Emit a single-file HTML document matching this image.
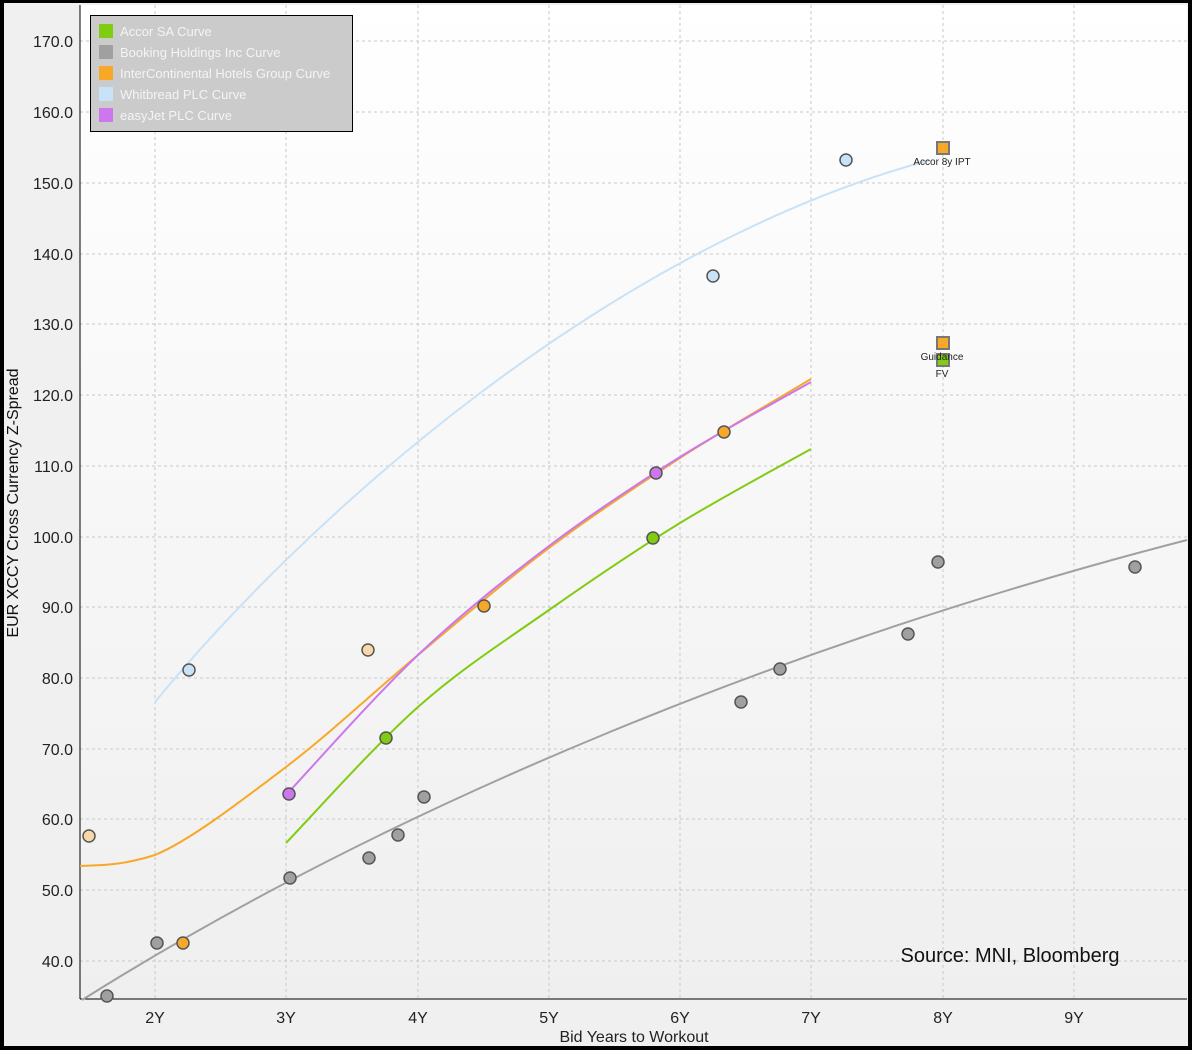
<!DOCTYPE html>
<html><head><style>
body{margin:0;background:#000;}
svg{display:block;font-family:"Liberation Sans",sans-serif;}
</style></head><body>
<svg width="1192" height="1050" viewBox="0 0 1192 1050">
<defs>
<linearGradient id="bg" x1="0" y1="0" x2="0" y2="1">
<stop offset="0" stop-color="#ffffff"/><stop offset="1" stop-color="#efefef"/>
</linearGradient>
</defs>
<rect x="0" y="0" width="1192" height="1050" fill="#000"/>
<rect x="4" y="3" width="1184" height="1043" fill="#f0f0f0"/>
<rect x="80" y="5" width="1107" height="994" fill="url(#bg)"/>
<g stroke="#c8c8c8" stroke-dasharray="3,3" stroke-width="1">
<line x1="155" y1="5" x2="155" y2="999"/><line x1="286" y1="5" x2="286" y2="999"/><line x1="418" y1="5" x2="418" y2="999"/><line x1="549" y1="5" x2="549" y2="999"/><line x1="680" y1="5" x2="680" y2="999"/><line x1="811" y1="5" x2="811" y2="999"/><line x1="943" y1="5" x2="943" y2="999"/><line x1="1074" y1="5" x2="1074" y2="999"/>
<line x1="80" y1="41" x2="1187" y2="41"/><line x1="80" y1="112" x2="1187" y2="112"/><line x1="80" y1="183" x2="1187" y2="183"/><line x1="80" y1="254" x2="1187" y2="254"/><line x1="80" y1="324" x2="1187" y2="324"/><line x1="80" y1="395" x2="1187" y2="395"/><line x1="80" y1="466" x2="1187" y2="466"/><line x1="80" y1="537" x2="1187" y2="537"/><line x1="80" y1="607" x2="1187" y2="607"/><line x1="80" y1="678" x2="1187" y2="678"/><line x1="80" y1="749" x2="1187" y2="749"/><line x1="80" y1="819" x2="1187" y2="819"/><line x1="80" y1="890" x2="1187" y2="890"/><line x1="80" y1="961" x2="1187" y2="961"/>
</g>
<line x1="80" y1="5" x2="80" y2="999" stroke="#000"/>
<line x1="80" y1="999" x2="1187" y2="999" stroke="#000"/>
<g font-size="16" fill="#222" text-anchor="end">
<text x="73" y="47">170.0</text><text x="73" y="118">160.0</text><text x="73" y="189">150.0</text><text x="73" y="260">140.0</text><text x="73" y="330">130.0</text><text x="73" y="401">120.0</text><text x="73" y="472">110.0</text><text x="73" y="543">100.0</text><text x="73" y="613">90.0</text><text x="73" y="684">80.0</text><text x="73" y="755">70.0</text><text x="73" y="825">60.0</text><text x="73" y="896">50.0</text><text x="73" y="967">40.0</text>
</g>
<g font-size="16" fill="#222" text-anchor="middle">
<text x="155" y="1023">2Y</text><text x="286" y="1023">3Y</text><text x="418" y="1023">4Y</text><text x="549" y="1023">5Y</text><text x="680" y="1023">6Y</text><text x="811" y="1023">7Y</text><text x="943" y="1023">8Y</text><text x="1074" y="1023">9Y</text>
<text x="634" y="1042">Bid Years to Workout</text>
</g>
<text transform="translate(18,503) rotate(-90)" font-size="16" fill="#111" text-anchor="middle">EUR XCCY Cross Currency Z-Spread</text>
<g fill="none" stroke-width="2">
<path d="M155,702 C300,525 600,250 930,160" stroke="#c8e2f8"/>
<path d="M82,1000 C400,800 800,640 1187,540" stroke="#a0a0a0"/>
<path d="M80,866 C100,865 120,866 155,855 C189.3,841 242.2,800.3 286,767 C329.8,733.7 374.2,691.5 418,655 C461.8,618.5 505.3,580.8 549,548 C592.7,515.2 636.3,486.2 680,458 C723.7,429.8 789.2,392.2 811,379" stroke="#f8a828"/>
<path d="M286,795 C308,771.7 374.2,696.5 418,655 C461.8,613.5 505.3,579 549,546 C592.7,513 636.3,484.3 680,457 C723.7,429.7 789.2,394.5 811,382" stroke="#cc77ee"/>
<path d="M286,843 C308,820.3 374.2,745.8 418,707 C461.8,668.2 505.3,640.7 549,610 C592.7,579.3 636.3,549.8 680,523 C723.7,496.2 789.2,461.3 811,449" stroke="#80cc10"/>
</g>
<g stroke="#555" stroke-width="1.5">
<g fill="#c8e2f8"><circle cx="189" cy="670" r="6"/><circle cx="713" cy="276" r="6"/><circle cx="846" cy="160" r="6"/></g>
<g fill="#a0a0a0"><circle cx="107" cy="996" r="6"/><circle cx="157" cy="943" r="6"/><circle cx="290" cy="878" r="6"/><circle cx="369" cy="858" r="6"/><circle cx="398" cy="835" r="6"/><circle cx="424" cy="797" r="6"/><circle cx="741" cy="702" r="6"/><circle cx="780" cy="669" r="6"/><circle cx="908" cy="634" r="6"/><circle cx="938" cy="562" r="6"/><circle cx="1135" cy="567" r="6"/></g>
<g fill="#f8d8a8"><circle cx="89" cy="836" r="6"/><circle cx="368" cy="650" r="6"/></g>
<g fill="#f8a828"><circle cx="183" cy="943" r="6"/><circle cx="484" cy="606" r="6"/><circle cx="724" cy="432" r="6"/></g>
<g fill="#cc77ee"><circle cx="289" cy="794" r="6"/><circle cx="656" cy="473" r="6"/></g>
<g fill="#80cc10"><circle cx="386" cy="738" r="6"/><circle cx="653" cy="538" r="6"/></g>
<rect x="937" y="142" width="12" height="12" fill="#f8a828" stroke-width="2" stroke="#777"/>
<rect x="937" y="337" width="12" height="12" fill="#f8a828" stroke-width="2" stroke="#777"/>
<rect x="937" y="354" width="12" height="12" fill="#80cc10" stroke-width="2" stroke="#777"/>
</g>
<g font-size="10" fill="#222" text-anchor="middle">
<text x="942" y="165">Accor 8y IPT</text><text x="942" y="360">Guidance</text><text x="942" y="377">FV</text>
</g>
<text x="1010" y="962" font-size="20" fill="#111" text-anchor="middle">Source: MNI, Bloomberg</text>
<rect x="90.5" y="15.5" width="262" height="116" fill="#c8c8c8" fill-opacity="0.95" stroke="#000"/>
<g font-size="13" fill="#f4f4f4">
<rect x="99" y="24" width="14" height="14" fill="#80cc10"/><text x="120" y="36">Accor SA Curve</text>
<rect x="99" y="45" width="14" height="14" fill="#a0a0a0"/><text x="120" y="57">Booking Holdings Inc Curve</text>
<rect x="99" y="66" width="14" height="14" fill="#f8a828"/><text x="120" y="78">InterContinental Hotels Group Curve</text>
<rect x="99" y="87" width="14" height="14" fill="#c8e2f8"/><text x="120" y="99">Whitbread PLC Curve</text>
<rect x="99" y="108" width="14" height="14" fill="#cc77ee"/><text x="120" y="120">easyJet PLC Curve</text>
</g>
</svg>
</body></html>
